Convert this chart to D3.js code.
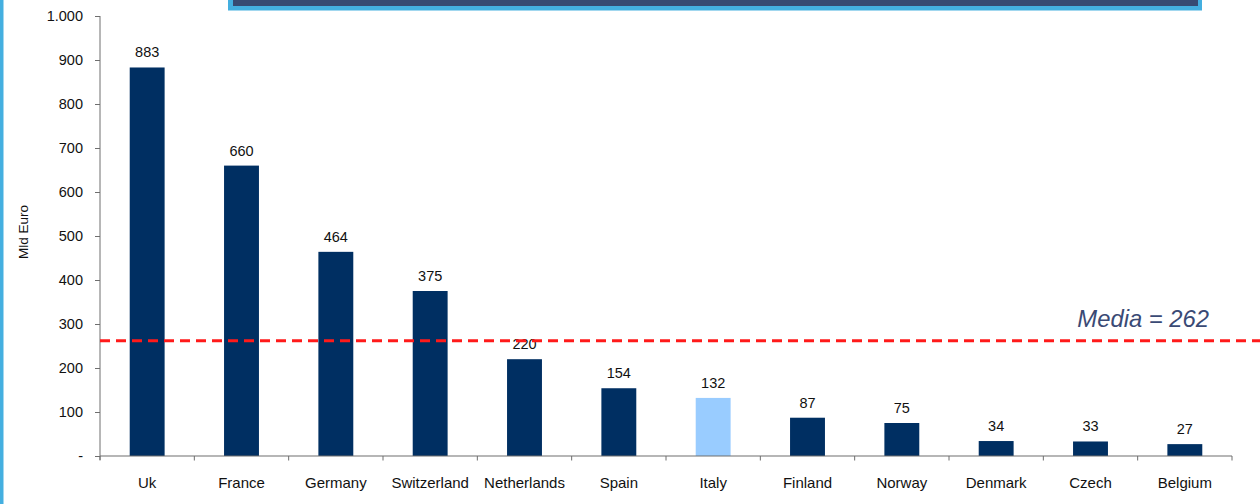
<!DOCTYPE html>
<html>
<head>
<meta charset="utf-8">
<script src="https://cdn.jsdelivr.net/npm/d3@7/dist/d3.min.js"></script>
<style>
  html, body { margin: 0; padding: 0; background: #fff; }
  svg { display: block; font-family: "Liberation Sans", Arial, sans-serif; }
</style>
</head>
<body>
<svg id="chart" width="1260" height="504"></svg>
<script>
// Chart data
const countries = ["Uk", "France", "Germany", "Switzerland", "Netherlands", "Spain",
                   "Italy", "Finland", "Norway", "Denmark", "Czech", "Belgium"];
const values = [883, 660, 464, 375, 220, 154, 132, 87, 75, 34, 33, 27];
const highlighted = ["Italy"];
const yTicks = [0, 100, 200, 300, 400, 500, 600, 700, 800, 900, 1000];
const yTickLabels = ["-", "100", "200", "300", "400", "500", "600", "700", "800", "900", "1.000"];
const mediaValue = 262;
const mediaLabel = "Media = 262";
const yTitle = "Mld Euro";

const svg = d3.select("#chart");
const W = 1260, H = 504;
const plot = { left: 100, right: 1232, top: 16, bottom: 456 };

const x = d3.scaleBand().domain(countries).range([plot.left, plot.right]).padding(0);
const y = d3.scaleLinear().domain([0, 1000]).range([plot.bottom, plot.top]);
const barW = x.bandwidth() * 0.37;

const navy = "#002f62";
const light = "#99ccff";
const axisColor = "#6e6e6e";

// Left accent strip
svg.append("rect").attr("x", 0).attr("y", 0).attr("width", 3.5).attr("height", H)
  .attr("fill", "#44afe0");

// Title box remnant at the top
svg.append("rect").attr("x", 228).attr("y", 0).attr("width", 974).attr("height", 10.5)
  .attr("fill", "#44afe0");
svg.append("rect").attr("x", 233).attr("y", 0).attr("width", 965).attr("height", 6)
  .attr("fill", "#374a72");

// Bars
svg.append("g").selectAll("rect").data(countries).join("rect")
  .attr("x", (d) => x(d) + (x.bandwidth() - barW) / 2)
  .attr("y", (d, i) => y(values[i]))
  .attr("width", barW)
  .attr("height", (d, i) => y(0) - y(values[i]))
  .attr("fill", (d) => highlighted.includes(d) ? light : navy);

// Value labels
svg.append("g").selectAll("text").data(countries).join("text")
  .attr("x", (d) => x(d) + x.bandwidth() / 2)
  .attr("y", (d, i) => y(values[i]) - 10)
  .attr("text-anchor", "middle")
  .attr("font-size", "14.5px")
  .attr("fill", "#111")
  .text((d, i) => values[i]);

// Y axis
const yAxis = d3.axisLeft(y).tickValues(yTicks)
  .tickFormat((d, i) => yTickLabels[i]).tickSize(5).tickPadding(12);
const gy = svg.append("g").attr("transform", `translate(${plot.left},0)`).call(yAxis);
gy.select(".domain").attr("stroke", axisColor).attr("d", `M0,${plot.top}V${plot.bottom + 4}`);
gy.selectAll(".tick line").attr("stroke", axisColor);
gy.selectAll(".tick text").attr("font-size", "14.5px").attr("fill", "#111")
  .attr("font-family", "Liberation Sans, Arial, sans-serif");

// X axis with ticks at category boundaries
const gx = svg.append("g").attr("transform", `translate(0,${plot.bottom})`);
gx.append("line").attr("x1", plot.left).attr("x2", plot.right).attr("y1", 0).attr("y2", 0)
  .attr("stroke", axisColor).attr("stroke-width", 1.2);
const boundaries = countries.map((d) => x(d)).concat([plot.right]);
gx.selectAll("line.tick").data(boundaries).join("line").attr("class", "tick")
  .attr("x1", (d) => d).attr("x2", (d) => d).attr("y1", 0).attr("y2", 4.5)
  .attr("stroke", axisColor);
gx.selectAll("text").data(countries).join("text")
  .attr("x", (d) => x(d) + x.bandwidth() / 2)
  .attr("y", 32)
  .attr("text-anchor", "middle")
  .attr("font-size", "15px")
  .attr("fill", "#111")
  .text((d) => d);

// Y axis title
svg.append("text")
  .attr("transform", `translate(28,232) rotate(-90)`)
  .attr("text-anchor", "middle")
  .attr("font-size", "13.5px")
  .attr("fill", "#111")
  .text(yTitle);

// Average line
svg.append("line")
  .attr("x1", plot.left).attr("x2", W)
  .attr("y1", y(mediaValue)).attr("y2", y(mediaValue))
  .attr("stroke", "#ff1a1a").attr("stroke-width", 3)
  .attr("stroke-dasharray", "10,6");

svg.append("text")
  .attr("x", 1209).attr("y", 327)
  .attr("text-anchor", "end")
  .attr("font-size", "23.8px")
  .attr("font-style", "italic")
  .attr("fill", "#3a4a75")
  .text(mediaLabel);
</script>
</body>
</html>
